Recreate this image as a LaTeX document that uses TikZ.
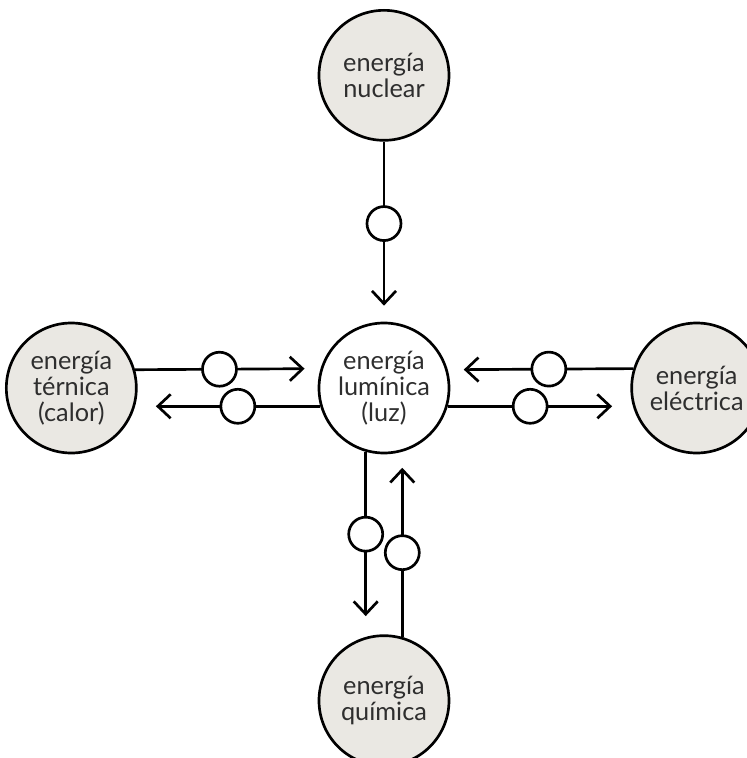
\documentclass[tikz,border=0pt]{standalone}
\usepackage{fontspec}
\setsansfont{Lato}
\usepackage{tikz}
\usetikzlibrary{arrows.meta, positioning}
\definecolor{DiscGray}{HTML}{EAE8E3}
\definecolor{LabelGray}{HTML}{2E2E2E}
\tikzset{
  % Circle styles
  energybox/.style={circle, draw=black, fill=DiscGray, line width=1.9pt, minimum size=3.25cm, inner sep=0pt, font=\sffamily\fontsize{18}{18.4}\selectfont, text=LabelGray, align=center},
  centerbox/.style={energybox, fill=white},
  valve/.style={circle, draw=black, fill=white, line width=1.9pt, minimum size=0.85cm, inner sep=0pt},
  % Arrow styles
  flow/.style={-{Straight Barb[length=3.2mm,width=6mm]}, line width=1.9pt},
  inflow/.style={flow, shorten >=0.4cm},
  outflow/.style={flow, shorten >=0.52cm}
}

\begin{document}
\begin{tikzpicture}
  \useasboundingbox (-9.6,-9.25) rectangle (9.075,9.7);

  % Energy circles
  \node[centerbox] (light) at (0,0) {energía\\lumínica\\(luz)};
  \node[energybox, above=4.5cm of light] (nuclear) {energía\\nuclear};
  \node[energybox, left=4.5cm of light] (thermal) {energía\\térnica\\(calor)};
  \node[energybox, right=4.5cm of light] (electric) {energía\\eléctrica};
  \node[energybox, below=4.5cm of light] (chemical) {energía\\química};

  % Conversions
  \draw[inflow] (nuclear) -- node[valve, pos=0.455] (v1) {} (light);
  \draw[inflow] (thermal.16.5) -- node[valve, pos=0.455] (v2) {} (light.163.5);
  \draw[outflow] (light.196.5) -- node[valve, pos=0.445] (v3) {} (thermal.-16.5);
  \draw[inflow] (electric.163.5) -- node[valve, pos=0.455] (v4) {} (light.16.5);
  \draw[outflow] (light.-16.5) -- node[valve, pos=0.445] (v5) {} (electric.196.5);
  \draw[outflow] (light.254) -- node[valve, pos=0.445] (v6) {} (chemical.106);
  \draw[inflow] (chemical.74) -- node[valve, pos=0.455] (v7) {} (light.286);
\end{tikzpicture}
\end{document}
